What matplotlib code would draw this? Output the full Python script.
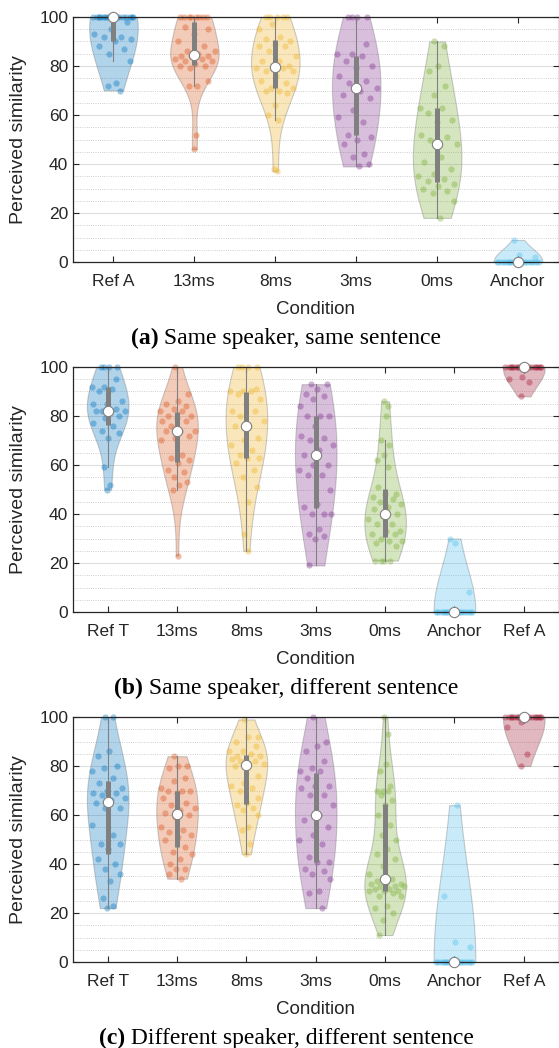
import numpy as np
import matplotlib.pyplot as plt
from matplotlib.colors import to_rgba
from matplotlib.ticker import MultipleLocator

plt.rcParams['font.family'] = ['Liberation Sans', 'DejaVu Sans']

# matlab default colour order
blue = '#0072BD'
orange = '#D95319'
yellow = '#EDB120'
purple = '#7E2F8E'
green = '#77AC30'
lightblue = '#4DBEEE'
darkred = '#A2142F'

labels_a = ['Ref A', '13ms', '8ms', '3ms', '0ms', 'Anchor']
labels_bc = ['Ref T', '13ms', '8ms', '3ms', '0ms', 'Anchor', 'Ref A']
colors_a = [blue, orange, yellow, purple, green, lightblue]
colors_bc = [blue, orange, yellow, purple, green, lightblue, darkred]

# (a) same speaker, same sentence
a_refa = [100]*17 + [98, 95, 93, 92, 92, 91, 90, 88, 87, 85, 82, 73, 72, 70]
a_13 = [100]*8 + [96, 95, 93, 90, 88, 86, 86, 85, 84, 84, 84, 83, 83, 82, 82, 81, 80, 80, 79, 74, 72, 72, 52, 46]
a_8 = [100]*5 + [97, 95, 92, 91, 90, 89, 88, 88, 86, 84, 82, 82, 80, 79, 79, 79, 78, 78, 76, 74, 73, 71, 71, 70, 70, 69, 64, 60, 58, 38, 37]
a_3 = [100]*4 + [89, 85, 85, 84, 82, 80, 79, 76, 74, 73, 71, 70, 68, 67, 62, 59, 57, 52, 51, 50, 48, 44, 43, 40, 39]
a_0 = [90, 88, 80, 78, 72, 68, 63, 63, 61, 58, 57, 52, 51, 50, 48, 43, 41, 38, 36, 35, 34, 33, 32, 31, 30, 29, 28, 25, 18]
a_anchor = [0]*22 + [2, 3, 9]

# (b) same speaker, different sentence
b_reft = [100]*4 + [95, 92, 92, 91, 90, 86, 85, 85, 83, 82, 82, 82, 82, 80, 79, 77, 76, 74, 73, 71, 59, 52, 50]
b_13 = [100, 89, 86, 85, 84, 83, 82, 82, 80, 80, 79, 78, 78, 76, 74, 74, 74, 72, 71, 70, 64, 63, 62, 61, 58, 57, 55, 53, 52, 50, 23]
b_8 = [100]*4 + [91, 90, 90, 90, 89, 87, 85, 82, 82, 80, 78, 76, 76, 71, 70, 68, 66, 64, 63, 63, 61, 58, 55, 51, 45, 32, 25]
b_3 = [93, 93, 91, 89, 88, 87, 84, 80, 80, 80, 76, 72, 71, 70, 68, 66, 64, 60, 60, 58, 56, 56, 50, 44, 43, 40, 40, 40, 34, 32, 31, 30, 19]
b_0 = [86, 84, 80, 70, 68, 64, 62, 59, 51, 48, 48, 47, 46, 45, 44, 43, 42, 40, 39, 38, 36, 36, 33, 33, 32, 32, 30, 29, 29, 28, 27, 21, 21, 21, 21]
b_anchor = [0]*22 + [8, 28, 30]
b_refa = [100]*18 + [96, 95, 94, 88]

# (c) different speaker, different sentence
c_reft = [100, 100, 86, 84, 80, 79, 78, 75, 73, 71, 70, 69, 69, 68, 67, 66, 65, 63, 63, 56, 52, 48, 48, 46, 42, 40, 38, 36, 33, 26, 23, 22]
c_13 = [84, 80, 80, 79, 75, 74, 71, 70, 70, 70, 69, 67, 65, 64, 63, 62, 61, 60, 59, 55, 54, 53, 52, 51, 50, 47, 45, 44, 42, 40, 38, 38, 36, 34]
c_8 = [99, 92, 92, 90, 88, 86, 86, 85, 84, 84, 83, 83, 82, 82, 81, 81, 80, 76, 73, 72, 71, 70, 67, 65, 64, 63, 62, 60, 55, 54, 48, 44]
c_3 = [100, 90, 88, 86, 82, 79, 78, 78, 75, 72, 72, 71, 68, 68, 64, 60, 58, 55, 52, 50, 48, 43, 41, 41, 38, 37, 36, 34, 29, 28, 22]
c_0 = [100, 93, 81, 78, 72, 70, 70, 70, 68, 66, 64, 60, 56, 52, 50, 46, 44, 42, 39, 36, 34, 33, 32, 32, 32, 31, 31, 31, 30, 30,
       29, 29, 29, 28, 27, 27, 23, 22, 20, 17, 11]
c_anchor = [0]*22 + [6, 8, 27, 64]
c_refa = [100]*18 + [98, 96, 85, 80]

panels = [
    ([a_refa, a_13, a_8, a_3, a_0, a_anchor], labels_a, colors_a, 17, '(a)', 'Same speaker, same sentence'),
    ([b_reft, b_13, b_8, b_3, b_0, b_anchor, b_refa], labels_bc, colors_bc, 367, '(b)', 'Same speaker, different sentence'),
    ([c_reft, c_13, c_8, c_3, c_0, c_anchor, c_refa], labels_bc, colors_bc, 717, '(c)', 'Different speaker, different sentence'),
]

W, H = 559, 1048


def bandwidth(x):
    # ksdensity-like rule (MAD based), a bit smoother when MAD > 0
    x = np.asarray(x, float)
    sig = np.median(np.abs(x - np.median(x))) / 0.6745
    k = 1.4
    if sig <= 0:
        sig = x.max() - x.min()
        k = 1.0
    return k * sig * (4.0 / (3 * len(x))) ** 0.2


def kde_factor(kde):
    x = kde.dataset.ravel()
    return bandwidth(x) / np.std(x, ddof=1)


def density(x, at):
    u = bandwidth(x)
    x = np.asarray(x, float)
    return np.exp(-0.5 * ((at[:, None] - x[None, :]) / u) ** 2).sum(axis=1)


fig = plt.figure(figsize=(W / 100, H / 100), dpi=100)

for groups, labels, colors, top_px, tag, text in panels:
    ax = fig.add_axes([73 / W, 1 - (top_px + 245) / H, 485.5 / W, 245 / H])
    n = len(groups)
    pos = np.arange(1, n + 1)

    parts = ax.violinplot(groups, positions=pos, widths=0.6, showextrema=False,
                          points=300, bw_method=kde_factor)
    for body, c in zip(parts['bodies'], colors):
        body.set_facecolor(to_rgba(c, 0.3))
        body.set_edgecolor('0.38')
        body.set_linewidth(0.8)
        body.set_zorder(2)

    for p, d, c in zip(pos, groups, colors):
        x = np.asarray(d, float)
        grid = np.linspace(x.min(), x.max(), 300)
        dmax = density(x, grid).max()
        dx = density(x, x) / dmax
        frac = (np.arange(len(x)) * 0.618034 + 0.31) % 1.0
        xs = p + (2 * frac - 1) * 0.3 * 0.92 * dx
        ax.scatter(xs, x, s=20, color=c, alpha=0.38, linewidths=0, zorder=3, clip_on=False)

        q1, med, q3 = np.percentile(x, [25, 50, 75], method='hazen')
        iqr = q3 - q1
        lo = x[x >= q1 - 1.5 * iqr].min()
        hi = x[x <= q3 + 1.5 * iqr].max()
        ax.plot([p, p], [lo, hi], color='0.5', lw=0.8, zorder=4)
        ax.plot([p, p], [q1, q3], color='0.5', lw=3.6, solid_capstyle='butt', zorder=4)
        ax.scatter([p], [med], s=55, color='white', edgecolors='0.5', linewidths=0.8,
                   zorder=6, clip_on=False)

    ax.set_xlim(0.5, n + 0.5)
    ax.set_ylim(0, 100)
    ax.set_xticks(pos)
    ax.set_xticklabels(labels)
    ax.set_yticks(range(0, 101, 20))
    ax.yaxis.set_minor_locator(MultipleLocator(5))
    ax.tick_params(which='major', direction='in', length=4, width=0.8, top=True, right=True,
                   labelsize=12.5, colors='0.15')
    ax.tick_params(axis='x', pad=9)
    ax.tick_params(axis='y', pad=3.5)
    ax.tick_params(which='minor', length=0)
    ax.grid(which='major', axis='y', color='0.87', lw=0.8)
    ax.grid(which='minor', axis='y', color='0.75', ls=':', lw=0.6)
    ax.set_axisbelow(True)
    for s in ax.spines.values():
        s.set_color('0.15')
        s.set_linewidth(0.9)
        s.set_zorder(5)

    ax.set_ylabel('Perceived similarity', fontsize=14, color='0.15')
    ax.yaxis.set_label_coords(-0.095, 0.5)
    ax.set_xlabel('Condition', fontsize=13.5, color='0.15', va='top')
    ax.xaxis.set_label_coords(0.5, -0.158)

    # caption with bold tag
    yf = 1 - (top_px + 327) / H
    t1 = fig.text(0, yf, tag, fontfamily='Liberation Serif', fontweight='bold', fontsize=17, va='baseline')
    t2 = fig.text(0, yf, ' ' + text, fontfamily='Liberation Serif', fontsize=17, va='baseline')
    r = fig.canvas.get_renderer()
    w1 = t1.get_window_extent(r).width
    w2 = t2.get_window_extent(r).width
    x0 = 286 - (w1 + w2) / 2
    t1.set_x(x0 / W)
    t2.set_x((x0 + w1) / W)

fig.savefig('out.png', dpi=100)
